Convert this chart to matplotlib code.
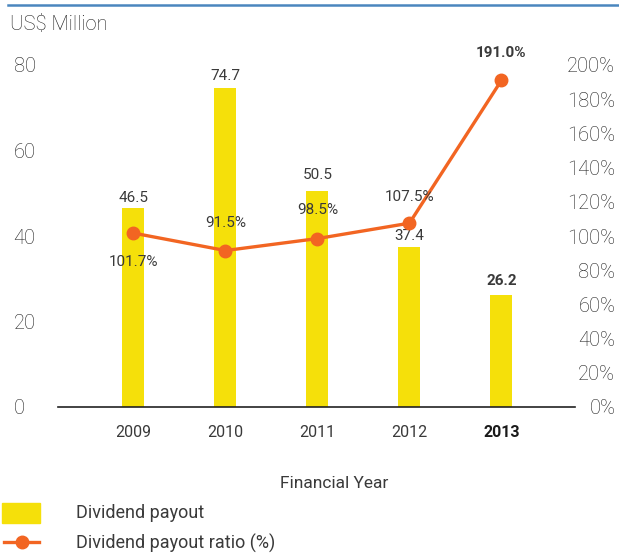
import matplotlib.pyplot as plt
from matplotlib.lines import Line2D
from matplotlib.patches import Rectangle

# ---------- DATA ----------
years = ['2009', '2010', '2011', '2012', '2013']
payout = [46.5, 74.7, 50.5, 37.4, 26.2]            # US$ Million
ratio = [101.7, 91.5, 98.5, 107.5, 191.0]          # %
left_ticks = [0, 20, 40, 60, 80]
right_ticks = [0, 20, 40, 60, 80, 100, 120, 140, 160, 180, 200]

YELLOW = '#F5E00A'
ORANGE = '#F26522'
BLUE = '#4A86BE'
TXT = '#1e1e1e'
TXT2 = '#3a3a3a'   # smaller text, regular weight

plt.rcParams['font.family'] = ['Roboto', 'DejaVu Sans']
plt.rcParams['font.weight'] = 'light'

W, H = 619, 553
fig = plt.figure(figsize=(W / 100, H / 100), dpi=100)
ax = fig.add_axes([58 / W, 1 - 407 / H, (575 - 58) / W, (407 - 65) / H])
ax2 = ax.twinx()

x = list(range(len(years)))
ax.bar(x, payout, width=0.24, color=YELLOW, zorder=1)
ax2.plot(x, ratio, color=ORANGE, lw=2.4, marker='o', ms=9, zorder=3)

ax.set_xlim(-0.82, 4.8)
ax.set_ylim(0, 80)
ax2.set_ylim(0, 200)

for a in (ax, ax2):
    for s in a.spines.values():
        s.set_visible(False)
ax.spines['bottom'].set_visible(True)
ax.spines['bottom'].set_color('#222222')
ax.spines['bottom'].set_linewidth(1.2)

ax.set_yticks(left_ticks)
ax.set_yticklabels([str(t) for t in left_ticks], ha='left', fontsize=14.5, color=TXT)
ax.tick_params(axis='y', length=0, pad=32)
ax2.set_yticks(right_ticks)
ax2.set_yticklabels([f'{t}%' for t in right_ticks], ha='right', fontsize=14.5, color=TXT)
ax2.tick_params(axis='y', length=0, pad=29)

ax.set_xticks(x)
ax.set_xticklabels(years, fontsize=11.5, color=TXT2, fontweight='normal')
ax.tick_params(axis='x', length=0, pad=13)
ax.get_xticklabels()[-1].set_fontweight('bold')
ax.get_xticklabels()[-1].set_color('#1a1a1a')

# label offsets in pixels (bar labels above bar top, ratio labels around marker)
bar_off = [10, 12, 16, 11, 14]
ratio_off = [-29, 28, 29, 26, 27]
px = 0.72

for i, v in enumerate(payout):
    bold = (i == len(payout) - 1)
    ax.annotate(f'{v:.1f}', (i, v), xytext=(0, bar_off[i] * px), textcoords='offset points',
                ha='center', va='center', fontsize=11, color=TXT2,
                fontweight='bold' if bold else 'normal')

for i, v in enumerate(ratio):
    bold = (i == len(ratio) - 1)
    ax2.annotate(f'{v:.1f}%', (i, v), xytext=(0, ratio_off[i] * px), textcoords='offset points',
                 ha='center', va='center', fontsize=11, color=TXT2,
                 fontweight='bold' if bold else 'normal', zorder=5)

# titles / labels
fig.text(10 / W, 1 - 25 / H, 'US$ Million', fontsize=14.5, color=TXT, ha='left', va='center')
fig.text(334 / W, 1 - 483 / H, 'Financial Year', fontsize=12.5, color=TXT2,
         fontweight='normal', ha='center', va='center')

# top rule
fig.add_artist(Line2D([8 / W, 1], [1 - 5 / H, 1 - 5 / H], color=BLUE, lw=1.8))

# legend drawn by hand
fig.add_artist(Rectangle((2 / W, 1 - 523 / H), 38 / W, 20 / H, color=YELLOW, transform=fig.transFigure))
fig.add_artist(Line2D([4 / W, 39 / W], [1 - 542 / H] * 2, color=ORANGE, lw=2.4))
fig.add_artist(Line2D([22 / W], [1 - 542 / H], color=ORANGE, marker='o', ms=9, lw=0))
fig.text(76 / W, 1 - 513 / H, 'Dividend payout', fontsize=13, color=TXT2,
         fontweight='normal', ha='left', va='center')
fig.text(76 / W, 1 - 543 / H, 'Dividend payout ratio (%)', fontsize=13, color=TXT2,
         fontweight='normal', ha='left', va='center')

fig.savefig('out.png', dpi=100)
